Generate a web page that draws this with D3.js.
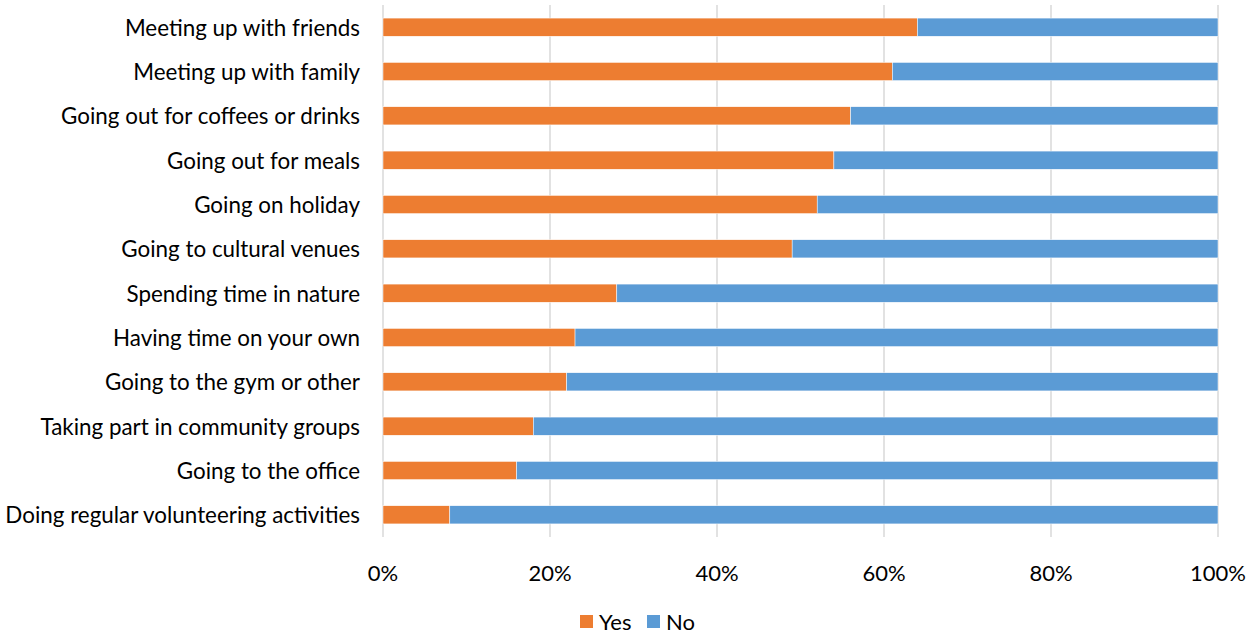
<!DOCTYPE html>
<html><head><meta charset="utf-8">
<script src="https://cdn.jsdelivr.net/npm/d3@7"></script>
<style>body{margin:0;background:#fff;} text{font-family:Lato,"Open Sans",sans-serif;fill:#000;}</style>
</head><body>
<svg id="chart" width="1257" height="634"></svg>
<script>
const categories = ["Meeting up with friends","Meeting up with family","Going out for coffees or drinks","Going out for meals","Going on holiday","Going to cultural venues","Spending time in nature","Having time on your own","Going to the gym or other","Taking part in community groups","Going to the office","Doing regular volunteering activities"];
const yesValues = [64,61,56,54,52,49,28,23,22,18,16,8];
const noValues = yesValues.map(v => 100 - v);
const seriesNames = ["Yes","No"];
const seriesColors = ["#ED7D31","#5B9BD5"];
const tickValues = [0,20,40,60,80,100];

const svg = d3.select("#chart");
const x = d3.scaleLinear().domain([0,100]).range([383,1218]);
const y = d3.scaleBand().domain(categories).range([5,537]).paddingInner(0.59).paddingOuter(0.295);

// gridlines
svg.append("g").selectAll("line").data(tickValues).join("line")
  .attr("x1", d=>x(d)).attr("x2", d=>x(d)).attr("y1",5).attr("y2",537)
  .attr("stroke","#D9D9D9").attr("stroke-width",1.5);

const rows = categories.map((c,i)=>({cat:c, yes:yesValues[i], no:noValues[i]}));
const stack = d3.stack().keys(["yes","no"])(rows);
svg.append("g").selectAll("g").data(stack).join("g")
  .attr("fill",(d,i)=>seriesColors[i])
  .selectAll("rect").data(d=>d).join("rect")
  .attr("x", d=>x(d[0])).attr("width", d=>x(d[1])-x(d[0]))
  .attr("y", d=>y(d.data.cat)).attr("height", y.bandwidth())
  .attr("stroke","#fff").attr("stroke-width",0.5);

// category labels
svg.append("g").selectAll("text").data(categories).join("text")
  .attr("x",360).attr("y", d=>y(d)+y.bandwidth()/2)
  .attr("text-anchor","end").attr("dominant-baseline","central")
  .style("font-size","22.4px").text(d=>d);

// x axis tick labels
svg.append("g").selectAll("text").data(tickValues).join("text")
  .attr("x", d=>x(d)).attr("y",572)
  .attr("text-anchor","middle").attr("dominant-baseline","central")
  .style("font-size","22px").text(d=>d+"%");

// legend
const legend = svg.append("g");
const legX = [580,647];
seriesNames.forEach((n,i)=>{
  legend.append("rect").attr("x",legX[i]).attr("y",615).attr("width",13).attr("height",13).attr("fill",seriesColors[i]);
  legend.append("text").attr("x",legX[i]+19).attr("y",621.5).attr("dominant-baseline","central")
    .style("font-size","22px").text(n);
});
</script>
</body></html>
